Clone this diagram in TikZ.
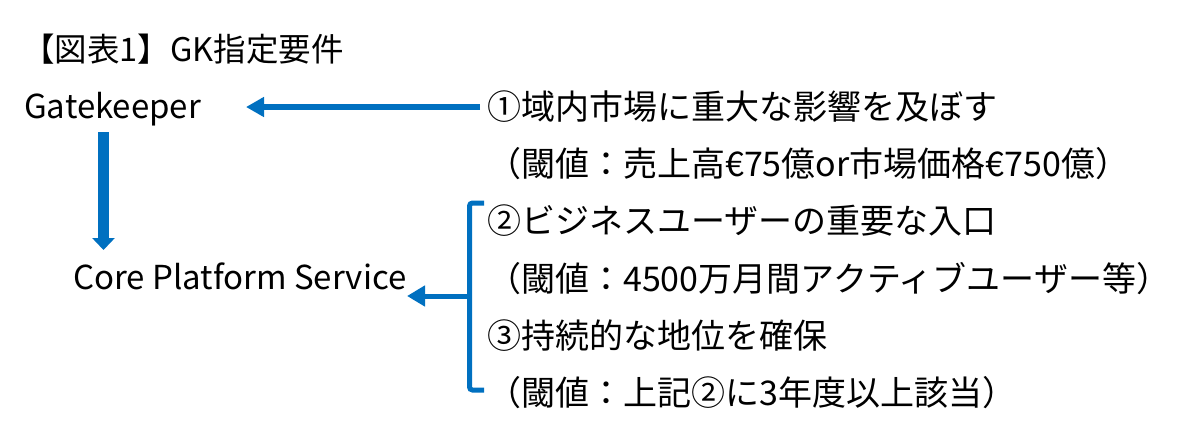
\documentclass[tikz,border=0pt]{standalone}
\usepackage{fontspec}
\setmainfont{Noto Sans CJK JP}
\usetikzlibrary{
    arrows.meta,
    positioning
}
\definecolor{gkblue}{RGB}{0,112,192}
\tikzset{
    txt/.style={inner sep=0pt, anchor=base west, font=\fontsize{34}{40}\selectfont},
    gkarrow/.style={gkblue, line width=5.5pt, -{Triangle[length=18pt, width=19pt]}}
}

\begin{document}
\begin{tikzpicture}[x=1pt, y=-1pt]
        \useasboundingbox (0, 0) rectangle (1189, 445);
        \node[txt, font=\fontsize{32.5}{38}\selectfont] at (22, 61) (title) {【図表1】GK指定要件};
        \node[txt, font=\fontsize{33}{40}\selectfont] at (24, 118) (gk) {Gatekeeper};
        \node[txt, font=\fontsize{33}{40}\selectfont] at (73, 289) (cps) {Core Platform Service};
        \node[txt] at (487, 119) (c1) {①域内市場に重大な影響を及ぼす};
        \node[txt] at (487, 176) (t1) {（閾値：売上高€75億or市場価格€750億）};
        \node[txt] at (487, 233) (c2) {②ビジネスユーザーの重要な入口};
        \node[txt] at (487, 291) (t2) {（閾値：4500万月間アクティブユーザー等）};
        \node[txt] at (487, 348) (c3) {③持続的な地位を確保};
        \node[txt] at (487, 405) (t3) {（閾値：上記②に3年度以上該当）};
        % arrow ends
        \coordinate (c1in) at (480, 107);
        \coordinate (gkin) at (246, 107);
        \coordinate (gkout) at (103.5, 132);
        \coordinate (cpsin) at (103.5, 250);
        \coordinate (brtop) at (484, 203);
        \coordinate (brbot) at (484, 390);
        \coordinate (brmid) at (469.5, 296);
        \coordinate (cpsr) at (407, 296);
        \draw[gkarrow] (c1in) -- (gkin);
        \draw[gkarrow, line width=10.5pt, -{Triangle[length=12pt, width=22pt]}] (gkout) -- (cpsin);
        \draw[gkblue, line width=5pt, rounded corners=3pt]
        (brtop) -- (brmid |- brtop) -- (brmid |- brbot) -- (brbot);
        \draw[gkarrow, line width=5pt, -{Triangle[length=18pt, width=20pt]}] (brmid) -- (cpsr);
    \end{tikzpicture}
\end{document}
